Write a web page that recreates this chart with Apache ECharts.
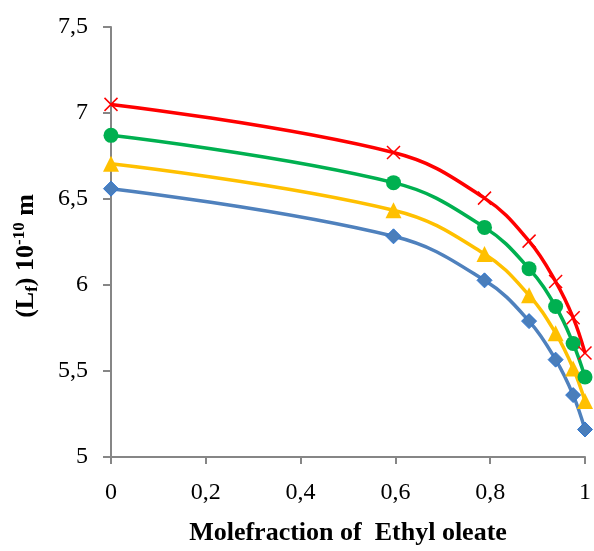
<!DOCTYPE html>
<html>
<head>
<meta charset="utf-8">
<script src="https://cdn.jsdelivr.net/npm/echarts@6/dist/echarts.min.js"></script>
<style>
  html, body { margin: 0; padding: 0; background: #fff; }
  #chart { width: 594px; height: 551px; }
</style>
</head>
<body>
<div id="chart"></div>
<script>
var xValues = [0, 0.596, 0.788, 0.882, 0.938, 0.975, 1.0];
var redValues = [7.05, 6.77, 6.505, 6.255, 6.02, 5.81, 5.605];
var greenValues = [6.87, 6.595, 6.335, 6.095, 5.875, 5.66, 5.465];
var yellowValues = [6.705, 6.435, 6.18, 5.94, 5.72, 5.515, 5.325];
var blueValues = [6.56, 6.283, 6.027, 5.79, 5.566, 5.36, 5.16];

var yMin = 5, yMax = 7.5, yStep = 0.5;
var xMin = 0, xMax = 1, xStep = 0.2;

function pairs(ys) {
  return xValues.map(function(x, i) { return [x, ys[i]]; });
}

function comma(v) {
  return String(Math.round(v * 10) / 10).replace('.', ',');
}

var chart = echarts.init(document.getElementById('chart'), null, { renderer: 'canvas' });
var axisGrey = '#868686';
var serif = "'Times New Roman', 'Liberation Serif', 'DejaVu Serif', serif";

function line(name, ys, color, symbol, size, marker) {
  return {
    name: name,
    type: 'line',
    data: pairs(ys),
    smooth: 0.4,
    symbol: symbol,
    symbolSize: size,
    lineStyle: { color: color, width: 3.5 },
    itemStyle: marker,
    z: 2
  };
}

chart.setOption({
  animation: false,
  textStyle: { fontFamily: serif },
  grid: { left: 111, right: 6, top: 27, bottom: 90 },
  xAxis: {
    type: 'value',
    min: xMin,
    max: xMax,
    interval: xStep,
    splitLine: { show: false },
    axisLine: { lineStyle: { color: axisGrey, width: 2 } },
    axisTick: { show: true, length: 7, lineStyle: { color: axisGrey, width: 2 } },
    axisLabel: {
      formatter: comma,
      fontFamily: serif,
      fontSize: 24,
      color: '#000',
      margin: 24
    },
    name: 'Molefraction of  Ethyl oleate',
    nameLocation: 'middle',
    nameGap: 63,
    nameTextStyle: {
      fontFamily: serif,
      fontSize: 26,
      fontWeight: 'bold',
      color: '#000'
    }
  },
  yAxis: {
    type: 'value',
    min: yMin,
    max: yMax,
    interval: yStep,
    splitLine: { show: false },
    axisLine: { show: true, lineStyle: { color: axisGrey, width: 2 } },
    axisTick: { show: true, length: 8, lineStyle: { color: axisGrey, width: 2 } },
    axisLabel: {
      formatter: comma,
      fontFamily: serif,
      fontSize: 24,
      color: '#000',
      margin: 23
    },
    name: '{b|(L}{sub|f}{b|) 10}{sup|-10}{b| m}',
    nameLocation: 'middle',
    nameRotate: 90,
    nameGap: 70,
    nameTextStyle: {
      color: '#000',
      fontFamily: serif,
      padding: [0, 28, 0, 0],
      rich: {
        b: { fontFamily: serif, fontSize: 26, fontWeight: 'bold', color: '#000', lineHeight: 30 },
        sub: { fontFamily: serif, fontSize: 17, fontWeight: 'bold', color: '#000', verticalAlign: 'bottom', lineHeight: 30, padding: [12, 0, 0, 0] },
        sup: { fontFamily: serif, fontSize: 17, fontWeight: 'bold', color: '#000', verticalAlign: 'top', lineHeight: 30, padding: [0, 0, 12, 0] }
      }
    }
  },
  series: [
    line('blue', blueValues, '#4F81BD', 'diamond', 15,
      { color: '#4A7EBB', borderColor: '#2E75D0', borderWidth: 1 }),
    line('yellow', yellowValues, '#FFC000', 'triangle', 16,
      { color: '#FFC000' }),
    line('green', greenValues, '#00B050', 'circle', 15,
      { color: '#00B050' }),
    line('red', redValues, '#FF0000', 'path://M0,0L10,10M10,0L0,10', 13,
      { color: 'none', borderColor: '#FF0000', borderWidth: 1.5 })
  ]
});
</script>
</body>
</html>
